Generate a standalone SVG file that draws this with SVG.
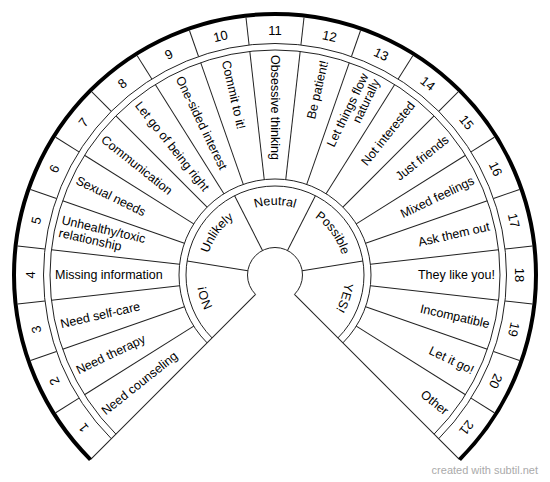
<svg xmlns="http://www.w3.org/2000/svg" width="550" height="482" viewBox="0 0 550 482">
<style>
.ln{fill:none;stroke:#222;stroke-width:1}
.thick{fill:none;stroke:#000;stroke-width:4}
.num{font-family:"Liberation Sans",Arial,sans-serif;font-size:13px;text-anchor:middle;fill:#000}
.lbl{font-family:"Liberation Sans",Arial,sans-serif;font-size:12.5px;fill:#000}
.s{text-anchor:start}
.e{text-anchor:end}
.sec{font-family:"Liberation Sans",Arial,sans-serif;font-size:12.5px;text-anchor:middle;fill:#000}
.credit{font-family:"Liberation Sans",Arial,sans-serif;font-size:11px;text-anchor:end;fill:#aaa}
</style>
<defs>
<path id="pNo" d="M225.5,324.5 A70,70 0 0 1 205.86,264.05"/>
<path id="pUnlikely" d="M205.86,264.05 A70,70 0 0 1 243.22,212.63"/>
<path id="pNeutral" d="M243.22,212.63 A70,70 0 0 1 306.78,212.63"/>
<path id="pPossible" d="M306.78,212.63 A70,70 0 0 1 344.14,264.05"/>
<path id="pYes" d="M344.14,264.05 A70,70 0 0 1 324.5,324.5"/>
</defs>
<rect width="550" height="482" fill="#fff"/>
<g id="connectors">
<path class="ln" d="M111.305,438.695 A231.5,231.5 0 1 1 438.695,438.695"/>
<path class="ln" d="M115.901,434.099 A225,225 0 1 1 434.099,434.099"/>
<path class="ln" d="M207.118,342.882 A96,96 0 1 1 342.882,342.882"/>
<path class="ln" d="M212.067,337.933 A89,89 0 1 1 337.933,337.933"/>
<path class="ln" d="M255.555,294.445 A27.5,27.5 0 1 1 294.445,294.445"/>
<g transform="translate(275,275)" class="ln">
<line x1="27.5" x2="261" transform="rotate(-225)"/>
<line x1="27.5" x2="261" transform="rotate(45)"/>
<line x1="27.5" x2="89" transform="rotate(-171)"/>
<line x1="27.5" x2="89" transform="rotate(-117)"/>
<line x1="27.5" x2="89" transform="rotate(-63)"/>
<line x1="27.5" x2="89" transform="rotate(-9)"/>
<g id="num-dividers">
<line x1="231.5" x2="259" transform="rotate(-212.142857)"/>
<line x1="231.5" x2="259" transform="rotate(-199.285714)"/>
<line x1="231.5" x2="259" transform="rotate(-186.428571)"/>
<line x1="231.5" x2="259" transform="rotate(-173.571429)"/>
<line x1="231.5" x2="259" transform="rotate(-160.714286)"/>
<line x1="231.5" x2="259" transform="rotate(-147.857143)"/>
<line x1="231.5" x2="259" transform="rotate(-135)"/>
<line x1="231.5" x2="259" transform="rotate(-122.142857)"/>
<line x1="231.5" x2="259" transform="rotate(-109.285714)"/>
<line x1="231.5" x2="259" transform="rotate(-96.428571)"/>
<line x1="231.5" x2="259" transform="rotate(-83.571429)"/>
<line x1="231.5" x2="259" transform="rotate(-70.714286)"/>
<line x1="231.5" x2="259" transform="rotate(-57.857143)"/>
<line x1="231.5" x2="259" transform="rotate(-45)"/>
<line x1="231.5" x2="259" transform="rotate(-32.142857)"/>
<line x1="231.5" x2="259" transform="rotate(-19.285714)"/>
<line x1="231.5" x2="259" transform="rotate(-6.428571)"/>
<line x1="231.5" x2="259" transform="rotate(6.428571)"/>
<line x1="231.5" x2="259" transform="rotate(19.285714)"/>
<line x1="231.5" x2="259" transform="rotate(32.142857)"/>
</g>
<g id="label-dividers">
<line x1="96" x2="225" transform="rotate(-212.142857)"/>
<line x1="96" x2="225" transform="rotate(-199.285714)"/>
<line x1="96" x2="225" transform="rotate(-186.428571)"/>
<line x1="96" x2="225" transform="rotate(-173.571429)"/>
<line x1="96" x2="225" transform="rotate(-160.714286)"/>
<line x1="96" x2="225" transform="rotate(-147.857143)"/>
<line x1="96" x2="225" transform="rotate(-135)"/>
<line x1="96" x2="225" transform="rotate(-122.142857)"/>
<line x1="96" x2="225" transform="rotate(-109.285714)"/>
<line x1="96" x2="225" transform="rotate(-96.428571)"/>
<line x1="96" x2="225" transform="rotate(-83.571429)"/>
<line x1="96" x2="225" transform="rotate(-70.714286)"/>
<line x1="96" x2="225" transform="rotate(-57.857143)"/>
<line x1="96" x2="225" transform="rotate(-45)"/>
<line x1="96" x2="225" transform="rotate(-32.142857)"/>
<line x1="96" x2="225" transform="rotate(-19.285714)"/>
<line x1="96" x2="225" transform="rotate(-6.428571)"/>
<line x1="96" x2="225" transform="rotate(6.428571)"/>
<line x1="96" x2="225" transform="rotate(19.285714)"/>
<line x1="96" x2="225" transform="rotate(32.142857)"/>
</g>
</g>
<path class="thick" d="M90.445,459.555 A261,261 0 1 1 459.555,459.555"/>
</g>
<g transform="translate(275,275)">
<g id="seg-1"><text class="num" transform="rotate(-128.571429)" y="-245" dy="0.35em">1</text><text class="lbl s" transform="rotate(-38.571429)" x="-220" dy="0.35em">Need counseling</text></g>
<g id="seg-2"><text class="num" transform="rotate(-115.714286)" y="-245" dy="0.35em">2</text><text class="lbl s" transform="rotate(-25.714286)" x="-220" dy="0.35em">Need therapy</text></g>
<g id="seg-3"><text class="num" transform="rotate(-102.857143)" y="-245" dy="0.35em">3</text><text class="lbl s" transform="rotate(-12.857143)" x="-220" dy="0.35em">Need self-care</text></g>
<g id="seg-4"><text class="num" transform="rotate(-90)" y="-245" dy="0.35em">4</text><text class="lbl s" transform="rotate(0)" x="-220" dy="0.35em">Missing information</text></g>
<g id="seg-5"><text class="num" transform="rotate(-77.142857)" y="-245" dy="0.35em">5</text><text class="lbl s" transform="rotate(12.857143)"><tspan x="-220" y="-2.1">Unhealthy/toxic</tspan><tspan x="-220" y="10.9">relationship</tspan></text></g>
<g id="seg-6"><text class="num" transform="rotate(-64.285714)" y="-245" dy="0.35em">6</text><text class="lbl s" transform="rotate(25.714286)" x="-220" dy="0.35em">Sexual needs</text></g>
<g id="seg-7"><text class="num" transform="rotate(-51.428571)" y="-245" dy="0.35em">7</text><text class="lbl s" transform="rotate(38.571429)" x="-220" dy="0.35em">Communication</text></g>
<g id="seg-8"><text class="num" transform="rotate(-38.571429)" y="-245" dy="0.35em">8</text><text class="lbl s" transform="rotate(51.428571)" x="-220" dy="0.35em">Let go of being right</text></g>
<g id="seg-9"><text class="num" transform="rotate(-25.714286)" y="-245" dy="0.35em">9</text><text class="lbl s" transform="rotate(64.285714)" x="-220" dy="0.35em">One-sided interest</text></g>
<g id="seg-10"><text class="num" transform="rotate(-12.857143)" y="-245" dy="0.35em">10</text><text class="lbl s" transform="rotate(77.142857)" x="-220" dy="0.35em">Commit to it!</text></g>
<g id="seg-11"><text class="num" transform="rotate(0)" y="-245" dy="0.35em">11</text><text class="lbl s" transform="rotate(90)" x="-220" dy="0.35em">Obsessive thinking</text></g>
<g id="seg-12"><text class="num" transform="rotate(12.857143)" y="-245" dy="0.35em">12</text><text class="lbl e" transform="rotate(-77.142857)" x="220" dy="0.35em">Be patient!</text></g>
<g id="seg-13"><text class="num" transform="rotate(25.714286)" y="-245" dy="0.35em">13</text><text class="lbl e" transform="rotate(-64.285714)"><tspan x="220" y="-2.1">Let things flow</tspan><tspan x="220" y="10.9">naturally</tspan></text></g>
<g id="seg-14"><text class="num" transform="rotate(38.571429)" y="-245" dy="0.35em">14</text><text class="lbl e" transform="rotate(-51.428571)" x="220" dy="0.35em">Not interested</text></g>
<g id="seg-15"><text class="num" transform="rotate(51.428571)" y="-245" dy="0.35em">15</text><text class="lbl e" transform="rotate(-38.571429)" x="220" dy="0.35em">Just friends</text></g>
<g id="seg-16"><text class="num" transform="rotate(64.285714)" y="-245" dy="0.35em">16</text><text class="lbl e" transform="rotate(-25.714286)" x="220" dy="0.35em">Mixed feelings</text></g>
<g id="seg-17"><text class="num" transform="rotate(77.142857)" y="-245" dy="0.35em">17</text><text class="lbl e" transform="rotate(-12.857143)" x="220" dy="0.35em">Ask them out</text></g>
<g id="seg-18"><text class="num" transform="rotate(90)" y="-245" dy="0.35em">18</text><text class="lbl e" transform="rotate(0)" x="220" dy="0.35em">They like you!</text></g>
<g id="seg-19"><text class="num" transform="rotate(102.857143)" y="-245" dy="0.35em">19</text><text class="lbl e" transform="rotate(12.857143)" x="220" dy="0.35em">Incompatible</text></g>
<g id="seg-20"><text class="num" transform="rotate(115.714286)" y="-245" dy="0.35em">20</text><text class="lbl e" transform="rotate(25.714286)" x="220" dy="0.35em">Let it go!</text></g>
<g id="seg-21"><text class="num" transform="rotate(128.571429)" y="-245" dy="0.35em">21</text><text class="lbl e" transform="rotate(38.571429)" x="220" dy="0.35em">Other</text></g>
</g>
<g id="sector-no"><text class="sec"><textPath href="#pNo" startOffset="50%">NO!</textPath></text></g>
<g id="sector-unlikely"><text class="sec"><textPath href="#pUnlikely" startOffset="50%">Unlikely</textPath></text></g>
<g id="sector-neutral"><text class="sec"><textPath href="#pNeutral" startOffset="50%">Neutral</textPath></text></g>
<g id="sector-possible"><text class="sec"><textPath href="#pPossible" startOffset="50%">Possible</textPath></text></g>
<g id="sector-yes"><text class="sec"><textPath href="#pYes" startOffset="50%">YES!</textPath></text></g>
<text class="credit" x="538" y="474">created with subtil.net</text>
</svg>
